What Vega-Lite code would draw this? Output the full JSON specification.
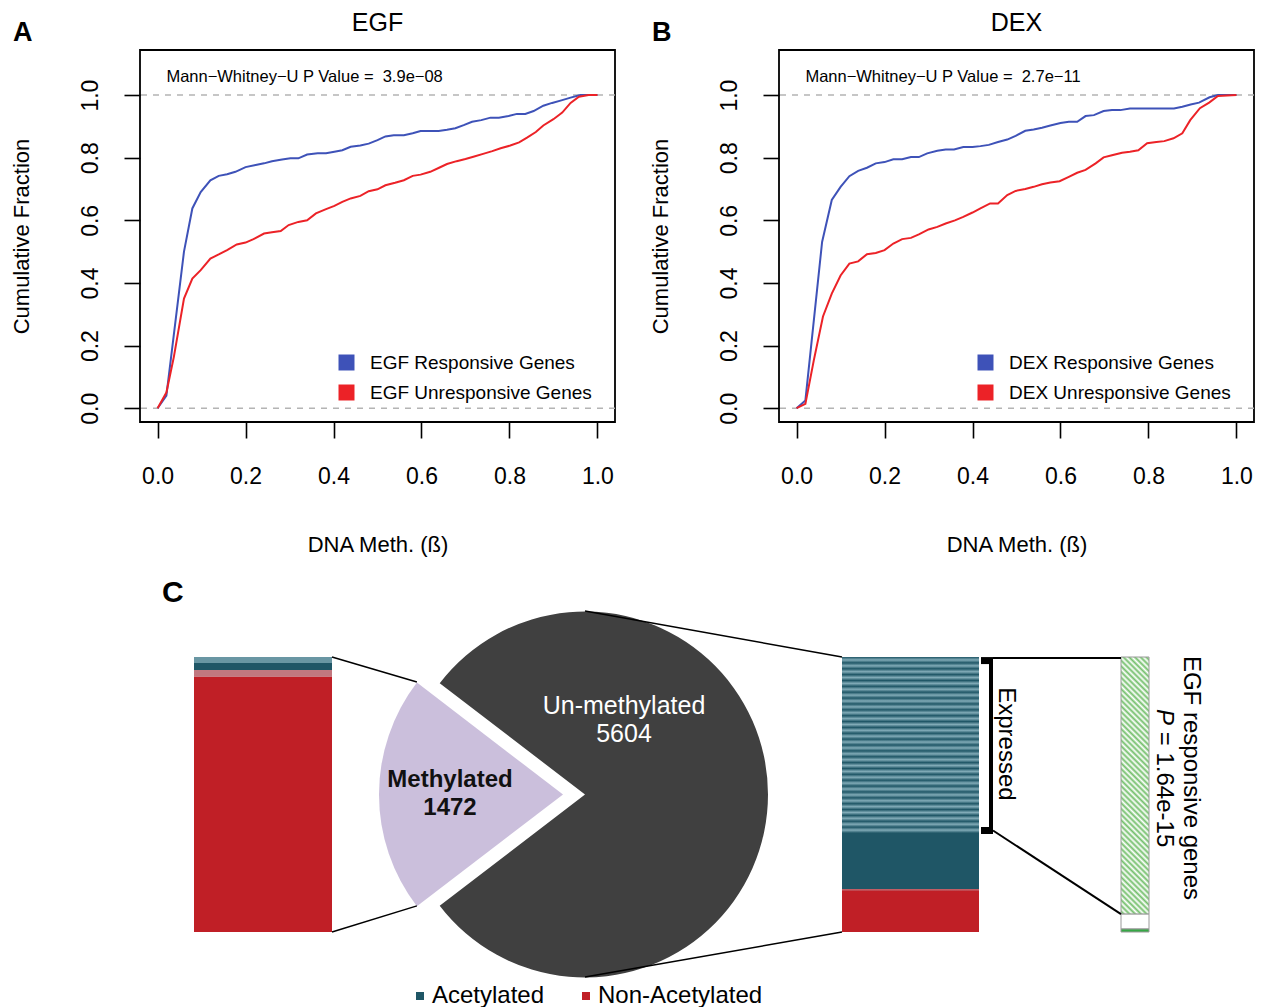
{
  "$schema": "https://vega.github.io/schema/vega-lite/v6.json",
  "background": "white",
  "padding": {"left": 9, "top": 10, "right": 0, "bottom": 0},
  "config": {
    "font": "Liberation Sans",
    "view": {"stroke": "black", "strokeWidth": 1.8},
    "axis": {"grid": false, "domain": false, "tickColor": "black", "tickWidth": 1.6, "tickSize": 16, "labelColor": "black", "titleColor": "black", "labelFontSize": 23, "titleFontSize": 22, "titleFontWeight": "normal", "labelFont": "Liberation Sans", "titleFont": "Liberation Sans"},
    "title": {"font": "Liberation Sans", "color": "black"},
    "legend": {"labelFont": "Liberation Sans", "labelColor": "black"},
    "text": {"font": "Liberation Sans"}
  },
  "datasets": {
    "egf": [
      {"series": "EGF Responsive Genes", "beta": 0, "fraction": 0},
      {"series": "EGF Responsive Genes", "beta": 0.02, "fraction": 0.04},
      {"series": "EGF Responsive Genes", "beta": 0.06, "fraction": 0.5},
      {"series": "EGF Responsive Genes", "beta": 0.079, "fraction": 0.638},
      {"series": "EGF Responsive Genes", "beta": 0.098, "fraction": 0.69},
      {"series": "EGF Responsive Genes", "beta": 0.12, "fraction": 0.728},
      {"series": "EGF Responsive Genes", "beta": 0.139, "fraction": 0.742},
      {"series": "EGF Responsive Genes", "beta": 0.158, "fraction": 0.747},
      {"series": "EGF Responsive Genes", "beta": 0.177, "fraction": 0.755},
      {"series": "EGF Responsive Genes", "beta": 0.2, "fraction": 0.77},
      {"series": "EGF Responsive Genes", "beta": 0.223, "fraction": 0.777},
      {"series": "EGF Responsive Genes", "beta": 0.242, "fraction": 0.782},
      {"series": "EGF Responsive Genes", "beta": 0.26, "fraction": 0.789},
      {"series": "EGF Responsive Genes", "beta": 0.283, "fraction": 0.794},
      {"series": "EGF Responsive Genes", "beta": 0.302, "fraction": 0.798},
      {"series": "EGF Responsive Genes", "beta": 0.32, "fraction": 0.798},
      {"series": "EGF Responsive Genes", "beta": 0.34, "fraction": 0.81},
      {"series": "EGF Responsive Genes", "beta": 0.364, "fraction": 0.814},
      {"series": "EGF Responsive Genes", "beta": 0.383, "fraction": 0.814},
      {"series": "EGF Responsive Genes", "beta": 0.402, "fraction": 0.819},
      {"series": "EGF Responsive Genes", "beta": 0.42, "fraction": 0.824},
      {"series": "EGF Responsive Genes", "beta": 0.439, "fraction": 0.835},
      {"series": "EGF Responsive Genes", "beta": 0.461, "fraction": 0.839},
      {"series": "EGF Responsive Genes", "beta": 0.48, "fraction": 0.845},
      {"series": "EGF Responsive Genes", "beta": 0.5, "fraction": 0.856},
      {"series": "EGF Responsive Genes", "beta": 0.518, "fraction": 0.868},
      {"series": "EGF Responsive Genes", "beta": 0.537, "fraction": 0.872},
      {"series": "EGF Responsive Genes", "beta": 0.56, "fraction": 0.872},
      {"series": "EGF Responsive Genes", "beta": 0.58, "fraction": 0.878},
      {"series": "EGF Responsive Genes", "beta": 0.598, "fraction": 0.885},
      {"series": "EGF Responsive Genes", "beta": 0.639, "fraction": 0.885},
      {"series": "EGF Responsive Genes", "beta": 0.658, "fraction": 0.889},
      {"series": "EGF Responsive Genes", "beta": 0.677, "fraction": 0.894},
      {"series": "EGF Responsive Genes", "beta": 0.696, "fraction": 0.904},
      {"series": "EGF Responsive Genes", "beta": 0.715, "fraction": 0.915},
      {"series": "EGF Responsive Genes", "beta": 0.736, "fraction": 0.92},
      {"series": "EGF Responsive Genes", "beta": 0.757, "fraction": 0.928},
      {"series": "EGF Responsive Genes", "beta": 0.776, "fraction": 0.928},
      {"series": "EGF Responsive Genes", "beta": 0.798, "fraction": 0.933},
      {"series": "EGF Responsive Genes", "beta": 0.817, "fraction": 0.94},
      {"series": "EGF Responsive Genes", "beta": 0.836, "fraction": 0.94},
      {"series": "EGF Responsive Genes", "beta": 0.855, "fraction": 0.949},
      {"series": "EGF Responsive Genes", "beta": 0.877, "fraction": 0.966},
      {"series": "EGF Responsive Genes", "beta": 0.897, "fraction": 0.975},
      {"series": "EGF Responsive Genes", "beta": 0.92, "fraction": 0.984},
      {"series": "EGF Responsive Genes", "beta": 0.939, "fraction": 0.992},
      {"series": "EGF Responsive Genes", "beta": 0.961, "fraction": 1.0},
      {"series": "EGF Responsive Genes", "beta": 1.0, "fraction": 1.0},
      {"series": "EGF Unresponsive Genes", "beta": 0, "fraction": 0},
      {"series": "EGF Unresponsive Genes", "beta": 0.02, "fraction": 0.05},
      {"series": "EGF Unresponsive Genes", "beta": 0.037, "fraction": 0.164},
      {"series": "EGF Unresponsive Genes", "beta": 0.06, "fraction": 0.35},
      {"series": "EGF Unresponsive Genes", "beta": 0.079, "fraction": 0.414},
      {"series": "EGF Unresponsive Genes", "beta": 0.098, "fraction": 0.441},
      {"series": "EGF Unresponsive Genes", "beta": 0.12, "fraction": 0.478},
      {"series": "EGF Unresponsive Genes", "beta": 0.139, "fraction": 0.491},
      {"series": "EGF Unresponsive Genes", "beta": 0.158, "fraction": 0.505},
      {"series": "EGF Unresponsive Genes", "beta": 0.18, "fraction": 0.523},
      {"series": "EGF Unresponsive Genes", "beta": 0.2, "fraction": 0.529},
      {"series": "EGF Unresponsive Genes", "beta": 0.218, "fraction": 0.54},
      {"series": "EGF Unresponsive Genes", "beta": 0.242, "fraction": 0.558},
      {"series": "EGF Unresponsive Genes", "beta": 0.26, "fraction": 0.562},
      {"series": "EGF Unresponsive Genes", "beta": 0.28, "fraction": 0.566},
      {"series": "EGF Unresponsive Genes", "beta": 0.298, "fraction": 0.585},
      {"series": "EGF Unresponsive Genes", "beta": 0.32, "fraction": 0.595},
      {"series": "EGF Unresponsive Genes", "beta": 0.34, "fraction": 0.6},
      {"series": "EGF Unresponsive Genes", "beta": 0.36, "fraction": 0.622},
      {"series": "EGF Unresponsive Genes", "beta": 0.383, "fraction": 0.636},
      {"series": "EGF Unresponsive Genes", "beta": 0.402, "fraction": 0.646},
      {"series": "EGF Unresponsive Genes", "beta": 0.42, "fraction": 0.659},
      {"series": "EGF Unresponsive Genes", "beta": 0.439, "fraction": 0.67},
      {"series": "EGF Unresponsive Genes", "beta": 0.461, "fraction": 0.678},
      {"series": "EGF Unresponsive Genes", "beta": 0.48, "fraction": 0.693},
      {"series": "EGF Unresponsive Genes", "beta": 0.5, "fraction": 0.699},
      {"series": "EGF Unresponsive Genes", "beta": 0.518, "fraction": 0.712},
      {"series": "EGF Unresponsive Genes", "beta": 0.54, "fraction": 0.72},
      {"series": "EGF Unresponsive Genes", "beta": 0.56, "fraction": 0.728},
      {"series": "EGF Unresponsive Genes", "beta": 0.58, "fraction": 0.742},
      {"series": "EGF Unresponsive Genes", "beta": 0.598, "fraction": 0.746},
      {"series": "EGF Unresponsive Genes", "beta": 0.62, "fraction": 0.755},
      {"series": "EGF Unresponsive Genes", "beta": 0.64, "fraction": 0.768},
      {"series": "EGF Unresponsive Genes", "beta": 0.658, "fraction": 0.78},
      {"series": "EGF Unresponsive Genes", "beta": 0.68, "fraction": 0.789},
      {"series": "EGF Unresponsive Genes", "beta": 0.7, "fraction": 0.796},
      {"series": "EGF Unresponsive Genes", "beta": 0.718, "fraction": 0.803},
      {"series": "EGF Unresponsive Genes", "beta": 0.742, "fraction": 0.813},
      {"series": "EGF Unresponsive Genes", "beta": 0.761, "fraction": 0.821},
      {"series": "EGF Unresponsive Genes", "beta": 0.78, "fraction": 0.83},
      {"series": "EGF Unresponsive Genes", "beta": 0.802, "fraction": 0.839},
      {"series": "EGF Unresponsive Genes", "beta": 0.822, "fraction": 0.849},
      {"series": "EGF Unresponsive Genes", "beta": 0.84, "fraction": 0.864},
      {"series": "EGF Unresponsive Genes", "beta": 0.86, "fraction": 0.882},
      {"series": "EGF Unresponsive Genes", "beta": 0.877, "fraction": 0.903},
      {"series": "EGF Unresponsive Genes", "beta": 0.9, "fraction": 0.923},
      {"series": "EGF Unresponsive Genes", "beta": 0.92, "fraction": 0.944},
      {"series": "EGF Unresponsive Genes", "beta": 0.939, "fraction": 0.975},
      {"series": "EGF Unresponsive Genes", "beta": 0.958, "fraction": 0.995},
      {"series": "EGF Unresponsive Genes", "beta": 0.98, "fraction": 1.0},
      {"series": "EGF Unresponsive Genes", "beta": 1.0, "fraction": 1.0}
    ],
    "dex": [
      {"series": "DEX Responsive Genes", "beta": 0, "fraction": 0},
      {"series": "DEX Responsive Genes", "beta": 0.02, "fraction": 0.025},
      {"series": "DEX Responsive Genes", "beta": 0.058, "fraction": 0.531},
      {"series": "DEX Responsive Genes", "beta": 0.08, "fraction": 0.665},
      {"series": "DEX Responsive Genes", "beta": 0.1, "fraction": 0.707},
      {"series": "DEX Responsive Genes", "beta": 0.12, "fraction": 0.741},
      {"series": "DEX Responsive Genes", "beta": 0.14, "fraction": 0.758},
      {"series": "DEX Responsive Genes", "beta": 0.16, "fraction": 0.768},
      {"series": "DEX Responsive Genes", "beta": 0.18, "fraction": 0.782},
      {"series": "DEX Responsive Genes", "beta": 0.2, "fraction": 0.786},
      {"series": "DEX Responsive Genes", "beta": 0.22, "fraction": 0.795},
      {"series": "DEX Responsive Genes", "beta": 0.24, "fraction": 0.795},
      {"series": "DEX Responsive Genes", "beta": 0.26, "fraction": 0.802},
      {"series": "DEX Responsive Genes", "beta": 0.278, "fraction": 0.802},
      {"series": "DEX Responsive Genes", "beta": 0.297, "fraction": 0.814},
      {"series": "DEX Responsive Genes", "beta": 0.32, "fraction": 0.822},
      {"series": "DEX Responsive Genes", "beta": 0.339, "fraction": 0.826},
      {"series": "DEX Responsive Genes", "beta": 0.358, "fraction": 0.826},
      {"series": "DEX Responsive Genes", "beta": 0.379, "fraction": 0.834},
      {"series": "DEX Responsive Genes", "beta": 0.4, "fraction": 0.834},
      {"series": "DEX Responsive Genes", "beta": 0.418, "fraction": 0.837},
      {"series": "DEX Responsive Genes", "beta": 0.437, "fraction": 0.841},
      {"series": "DEX Responsive Genes", "beta": 0.458, "fraction": 0.85},
      {"series": "DEX Responsive Genes", "beta": 0.479, "fraction": 0.858},
      {"series": "DEX Responsive Genes", "beta": 0.498, "fraction": 0.87},
      {"series": "DEX Responsive Genes", "beta": 0.52, "fraction": 0.886},
      {"series": "DEX Responsive Genes", "beta": 0.539, "fraction": 0.89},
      {"series": "DEX Responsive Genes", "beta": 0.558, "fraction": 0.896},
      {"series": "DEX Responsive Genes", "beta": 0.577, "fraction": 0.903},
      {"series": "DEX Responsive Genes", "beta": 0.6, "fraction": 0.911},
      {"series": "DEX Responsive Genes", "beta": 0.619, "fraction": 0.915},
      {"series": "DEX Responsive Genes", "beta": 0.638, "fraction": 0.915},
      {"series": "DEX Responsive Genes", "beta": 0.657, "fraction": 0.933},
      {"series": "DEX Responsive Genes", "beta": 0.676, "fraction": 0.936},
      {"series": "DEX Responsive Genes", "beta": 0.698, "fraction": 0.949},
      {"series": "DEX Responsive Genes", "beta": 0.717, "fraction": 0.952},
      {"series": "DEX Responsive Genes", "beta": 0.736, "fraction": 0.952},
      {"series": "DEX Responsive Genes", "beta": 0.758, "fraction": 0.957},
      {"series": "DEX Responsive Genes", "beta": 0.858, "fraction": 0.957},
      {"series": "DEX Responsive Genes", "beta": 0.877, "fraction": 0.963},
      {"series": "DEX Responsive Genes", "beta": 0.896, "fraction": 0.97},
      {"series": "DEX Responsive Genes", "beta": 0.915, "fraction": 0.976},
      {"series": "DEX Responsive Genes", "beta": 0.939, "fraction": 0.993},
      {"series": "DEX Responsive Genes", "beta": 0.958, "fraction": 1.0},
      {"series": "DEX Responsive Genes", "beta": 1.0, "fraction": 1.0},
      {"series": "DEX Unresponsive Genes", "beta": 0, "fraction": 0},
      {"series": "DEX Unresponsive Genes", "beta": 0.02, "fraction": 0.014},
      {"series": "DEX Unresponsive Genes", "beta": 0.039, "fraction": 0.152},
      {"series": "DEX Unresponsive Genes", "beta": 0.06, "fraction": 0.293},
      {"series": "DEX Unresponsive Genes", "beta": 0.08, "fraction": 0.366},
      {"series": "DEX Unresponsive Genes", "beta": 0.1, "fraction": 0.424},
      {"series": "DEX Unresponsive Genes", "beta": 0.12, "fraction": 0.462},
      {"series": "DEX Unresponsive Genes", "beta": 0.14, "fraction": 0.469},
      {"series": "DEX Unresponsive Genes", "beta": 0.16, "fraction": 0.492},
      {"series": "DEX Unresponsive Genes", "beta": 0.18, "fraction": 0.496},
      {"series": "DEX Unresponsive Genes", "beta": 0.2, "fraction": 0.505},
      {"series": "DEX Unresponsive Genes", "beta": 0.22, "fraction": 0.526},
      {"series": "DEX Unresponsive Genes", "beta": 0.24, "fraction": 0.54},
      {"series": "DEX Unresponsive Genes", "beta": 0.26, "fraction": 0.544},
      {"series": "DEX Unresponsive Genes", "beta": 0.278, "fraction": 0.555},
      {"series": "DEX Unresponsive Genes", "beta": 0.3, "fraction": 0.571},
      {"series": "DEX Unresponsive Genes", "beta": 0.32, "fraction": 0.579},
      {"series": "DEX Unresponsive Genes", "beta": 0.339, "fraction": 0.59},
      {"series": "DEX Unresponsive Genes", "beta": 0.36, "fraction": 0.6},
      {"series": "DEX Unresponsive Genes", "beta": 0.379, "fraction": 0.611},
      {"series": "DEX Unresponsive Genes", "beta": 0.4, "fraction": 0.625},
      {"series": "DEX Unresponsive Genes", "beta": 0.418, "fraction": 0.638},
      {"series": "DEX Unresponsive Genes", "beta": 0.44, "fraction": 0.654},
      {"series": "DEX Unresponsive Genes", "beta": 0.458, "fraction": 0.654},
      {"series": "DEX Unresponsive Genes", "beta": 0.479, "fraction": 0.681},
      {"series": "DEX Unresponsive Genes", "beta": 0.498, "fraction": 0.694},
      {"series": "DEX Unresponsive Genes", "beta": 0.52, "fraction": 0.7},
      {"series": "DEX Unresponsive Genes", "beta": 0.539, "fraction": 0.707},
      {"series": "DEX Unresponsive Genes", "beta": 0.558, "fraction": 0.715},
      {"series": "DEX Unresponsive Genes", "beta": 0.577, "fraction": 0.721},
      {"series": "DEX Unresponsive Genes", "beta": 0.598, "fraction": 0.725},
      {"series": "DEX Unresponsive Genes", "beta": 0.619, "fraction": 0.739},
      {"series": "DEX Unresponsive Genes", "beta": 0.638, "fraction": 0.752},
      {"series": "DEX Unresponsive Genes", "beta": 0.657, "fraction": 0.761},
      {"series": "DEX Unresponsive Genes", "beta": 0.68, "fraction": 0.782},
      {"series": "DEX Unresponsive Genes", "beta": 0.698, "fraction": 0.801},
      {"series": "DEX Unresponsive Genes", "beta": 0.717, "fraction": 0.808},
      {"series": "DEX Unresponsive Genes", "beta": 0.74, "fraction": 0.816},
      {"series": "DEX Unresponsive Genes", "beta": 0.758, "fraction": 0.819},
      {"series": "DEX Unresponsive Genes", "beta": 0.777, "fraction": 0.824},
      {"series": "DEX Unresponsive Genes", "beta": 0.797, "fraction": 0.846},
      {"series": "DEX Unresponsive Genes", "beta": 0.818, "fraction": 0.85},
      {"series": "DEX Unresponsive Genes", "beta": 0.836, "fraction": 0.853},
      {"series": "DEX Unresponsive Genes", "beta": 0.857, "fraction": 0.862},
      {"series": "DEX Unresponsive Genes", "beta": 0.877, "fraction": 0.878},
      {"series": "DEX Unresponsive Genes", "beta": 0.895, "fraction": 0.92},
      {"series": "DEX Unresponsive Genes", "beta": 0.917, "fraction": 0.958},
      {"series": "DEX Unresponsive Genes", "beta": 0.938, "fraction": 0.976},
      {"series": "DEX Unresponsive Genes", "beta": 0.958, "fraction": 0.997},
      {"series": "DEX Unresponsive Genes", "beta": 1.0, "fraction": 1.0}
    ],
    "composition": [
      {"status": "Methylated", "acetylation": "Acetylated", "expression": "Expressed", "genes": 32},
      {"status": "Methylated", "acetylation": "Acetylated", "expression": "Not expressed", "genes": 37},
      {"status": "Methylated", "acetylation": "Non-Acetylated", "expression": "Expressed", "genes": 37},
      {"status": "Methylated", "acetylation": "Non-Acetylated", "expression": "Not expressed", "genes": 1366},
      {"status": "Un-methylated", "acetylation": "Acetylated", "expression": "Expressed", "genes": 3587},
      {"status": "Un-methylated", "acetylation": "Acetylated", "expression": "Not expressed", "genes": 1141},
      {"status": "Un-methylated", "acetylation": "Non-Acetylated", "expression": "Expressed", "genes": 41},
      {"status": "Un-methylated", "acetylation": "Non-Acetylated", "expression": "Not expressed", "genes": 835}
    ],
    "methylation": [
      {"status": "Methylated", "genes": 1472},
      {"status": "Un-methylated", "genes": 5604}
    ],
    "egfResponsive": [
      {"segment": "Un-methylated, acetylated, expressed", "share": 93.5},
      {"segment": "Other", "share": 5.4},
      {"segment": "Methylated", "share": 1.1}
    ]
  },
  "vconcat": [
    {
      "hconcat": [
        {
          "title": {"text": "A", "anchor": "start", "fontSize": 27, "fontWeight": "bold", "offset": -58, "dx": 4, "baseline": "alphabetic"},
          "vconcat": [
            {
              "width": 475, "height": 372,
              "title": {"text": "EGF", "fontSize": 25, "fontWeight": "normal", "offset": -6, "baseline": "alphabetic", "anchor": "middle", "frame": "group"},
              "layer": [
                {
                  "data": {"values": [{"level": 0}, {"level": 1}]},
                  "mark": {"type": "rule", "color": "#b4b4b4", "strokeWidth": 1.5, "strokeDash": [6, 6]},
                  "encoding": {"y": {"field": "level", "type": "quantitative",
                    "axis": {"values": [0, 0.2, 0.4, 0.6, 0.8, 1], "format": ".1f", "title": "Cumulative Fraction", "labelAngle": 270, "labelAlign": "center", "labelBaseline": "bottom", "labelPadding": 22, "titlePadding": 46, "labelFlush": false, "labelOverlap": false}}}
                },
                {
                  "data": {"name": "egf"},
                  "mark": {"type": "line", "strokeWidth": 2},
                  "encoding": {
                    "x": {"field": "beta", "type": "quantitative", "scale": {"domain": [-0.04, 1.04], "nice": false, "zero": false},
                      "axis": {"values": [0, 0.2, 0.4, 0.6, 0.8, 1], "format": ".1f", "title": "DNA Meth. (ß)", "labelPadding": 27, "titlePadding": 46, "labelFlush": false, "labelOverlap": false}},
                    "y": {"field": "fraction", "type": "quantitative", "scale": {"domain": [-0.044, 1.144], "nice": false, "zero": false},
                      "axis": {"values": [0, 0.2, 0.4, 0.6, 0.8, 1], "format": ".1f", "title": "Cumulative Fraction", "labelAngle": 270, "labelAlign": "center", "labelBaseline": "bottom", "labelPadding": 22, "titlePadding": 46, "labelFlush": false, "labelOverlap": false}},
                    "color": {"field": "series", "type": "nominal",
                      "scale": {"domain": ["EGF Responsive Genes", "EGF Unresponsive Genes"], "range": ["#3e52b8", "#ec2227"]},
                      "legend": {"title": null, "orient": "none", "legendX": 197, "legendY": 303, "direction": "vertical", "symbolType": "square", "symbolSize": 64, "symbolStrokeWidth": 8, "labelFontSize": 19, "labelOffset": 14, "labelLimit": 500, "rowPadding": -19, "padding": 0}}
                  }
                },
                {
                  "data": {"values": [{"label": "Mann−Whitney−U P Value = \u00a03.9e−08"}]},
                  "mark": {"type": "text", "fontSize": 16.5, "align": "left", "baseline": "middle", "color": "black"},
                  "encoding": {
                    "x": {"datum": 0.02, "axis": {"values": [0, 0.2, 0.4, 0.6, 0.8, 1], "format": ".1f", "title": "DNA Meth. (ß)", "labelPadding": 27, "titlePadding": 46, "labelFlush": false, "labelOverlap": false}},
                    "y": {"datum": 1.0575, "axis": {"values": [0, 0.2, 0.4, 0.6, 0.8, 1], "format": ".1f", "title": "Cumulative Fraction", "labelAngle": 270, "labelAlign": "center", "labelBaseline": "bottom", "labelPadding": 22, "titlePadding": 46, "labelFlush": false, "labelOverlap": false}},
                    "text": {"field": "label"}}
                }
              ]
            }
          ]
        },
        {
          "title": {"text": "B", "anchor": "start", "fontSize": 27, "fontWeight": "bold", "offset": -58, "dx": 4, "baseline": "alphabetic"},
          "vconcat": [
            {
              "width": 475, "height": 372,
              "title": {"text": "DEX", "fontSize": 25, "fontWeight": "normal", "offset": -6, "baseline": "alphabetic", "anchor": "middle", "frame": "group"},
              "layer": [
                {
                  "data": {"values": [{"level": 0}, {"level": 1}]},
                  "mark": {"type": "rule", "color": "#b4b4b4", "strokeWidth": 1.5, "strokeDash": [6, 6]},
                  "encoding": {"y": {"field": "level", "type": "quantitative",
                    "axis": {"values": [0, 0.2, 0.4, 0.6, 0.8, 1], "format": ".1f", "title": "Cumulative Fraction", "labelAngle": 270, "labelAlign": "center", "labelBaseline": "bottom", "labelPadding": 22, "titlePadding": 46, "labelFlush": false, "labelOverlap": false}}}
                },
                {
                  "data": {"name": "dex"},
                  "mark": {"type": "line", "strokeWidth": 2},
                  "encoding": {
                    "x": {"field": "beta", "type": "quantitative", "scale": {"domain": [-0.04, 1.04], "nice": false, "zero": false},
                      "axis": {"values": [0, 0.2, 0.4, 0.6, 0.8, 1], "format": ".1f", "title": "DNA Meth. (ß)", "labelPadding": 27, "titlePadding": 46, "labelFlush": false, "labelOverlap": false}},
                    "y": {"field": "fraction", "type": "quantitative", "scale": {"domain": [-0.044, 1.144], "nice": false, "zero": false},
                      "axis": {"values": [0, 0.2, 0.4, 0.6, 0.8, 1], "format": ".1f", "title": "Cumulative Fraction", "labelAngle": 270, "labelAlign": "center", "labelBaseline": "bottom", "labelPadding": 22, "titlePadding": 46, "labelFlush": false, "labelOverlap": false}},
                    "color": {"field": "series", "type": "nominal",
                      "scale": {"domain": ["DEX Responsive Genes", "DEX Unresponsive Genes"], "range": ["#3e52b8", "#ec2227"]},
                      "legend": {"title": null, "orient": "none", "legendX": 197, "legendY": 303, "direction": "vertical", "symbolType": "square", "symbolSize": 64, "symbolStrokeWidth": 8, "labelFontSize": 19, "labelOffset": 14, "labelLimit": 500, "rowPadding": -19, "padding": 0}}
                  }
                },
                {
                  "data": {"values": [{"label": "Mann−Whitney−U P Value = \u00a02.7e−11"}]},
                  "mark": {"type": "text", "fontSize": 16.5, "align": "left", "baseline": "middle", "color": "black"},
                  "encoding": {
                    "x": {"datum": 0.02, "axis": {"values": [0, 0.2, 0.4, 0.6, 0.8, 1], "format": ".1f", "title": "DNA Meth. (ß)", "labelPadding": 27, "titlePadding": 46, "labelFlush": false, "labelOverlap": false}},
                    "y": {"datum": 1.0575, "axis": {"values": [0, 0.2, 0.4, 0.6, 0.8, 1], "format": ".1f", "title": "Cumulative Fraction", "labelAngle": 270, "labelAlign": "center", "labelBaseline": "bottom", "labelPadding": 22, "titlePadding": 46, "labelFlush": false, "labelOverlap": false}},
                    "text": {"field": "label"}}
                }
              ]
            }
          ]
        }
      ],
      "spacing": 31,
      "resolve": {"scale": {"color": "independent"}, "legend": {"color": "independent"}}
    },
    {
      "width": 1123, "height": 385,
      "view": {"stroke": null},
      "title": {"text": "C", "anchor": "start", "frame": "group", "fontSize": 30, "fontWeight": "bold", "dx": 22, "offset": -29.5, "baseline": "alphabetic"},
      "layer": [
        {
          "data": {"name": "composition"},
          "transform": [{"stack": "genes", "groupby": ["status"], "sort": [{"field": "acetylation", "order": "descending"}, {"field": "expression", "order": "descending"}], "offset": "normalize", "as": ["f0", "f1"]}],
          "layer": [
            {
              "transform": [{"filter": "datum.status === 'Methylated'"}],
              "mark": {"type": "rect"},
              "encoding": {
                "x": {"datum": 0.54, "type": "quantitative", "scale": {"domain": [0, 11.23], "nice": false, "zero": false}, "axis": null},
                "x2": {"datum": 1.92},
                "y": {"field": "f0", "type": "quantitative", "scale": {"domain": [-0.2, 1.2], "nice": false, "zero": false}, "axis": null},
                "y2": {"field": "f1"},
                "color": {"field": "acetylation", "type": "nominal", "scale": {"domain": ["Acetylated", "Non-Acetylated"], "range": ["#1f5666", "#c01f26"]},
                  "legend": {"title": null, "orient": "none", "legendX": 268, "legendY": 382, "direction": "horizontal", "symbolType": "square", "symbolSize": 64, "symbolStrokeWidth": 0, "labelFontSize": 24, "labelOffset": 0, "labelLimit": 500, "columnPadding": 29, "padding": 0}}
              }
            },
            {
              "transform": [{"filter": "datum.status === 'Un-methylated'"}],
              "mark": {"type": "rect"},
              "encoding": {
                "x": {"datum": 7.02, "type": "quantitative", "axis": null},
                "x2": {"datum": 8.39},
                "y": {"field": "f0", "type": "quantitative", "axis": null},
                "y2": {"field": "f1"},
                "color": {"field": "acetylation", "type": "nominal", "scale": {"domain": ["Acetylated", "Non-Acetylated"], "range": ["#1f5666", "#c01f26"]},
                  "legend": {"title": null, "orient": "none", "legendX": 268, "legendY": 382, "direction": "horizontal", "symbolType": "square", "symbolSize": 64, "symbolStrokeWidth": 0, "labelFontSize": 24, "labelOffset": 0, "labelLimit": 500, "columnPadding": 29, "padding": 0}}
              }
            },
            {
              "transform": [{"filter": "datum.status === 'Methylated' && datum.expression === 'Expressed'"}],
              "mark": {"type": "rect", "fill": "rgba(195,228,238,0.45)"},
              "encoding": {
                "x": {"datum": 0.54, "type": "quantitative", "axis": null},
                "x2": {"datum": 1.92},
                "y": {"field": "f0", "type": "quantitative", "axis": null},
                "y2": {"field": "f1"}
              }
            },
            {
              "transform": [{"filter": "datum.status === 'Un-methylated' && datum.expression === 'Expressed'"}],
              "mark": {"type": "rect", "fill": {"gradient": "linear", "x1": 0, "y1": 0, "x2": 0, "y2": 1, "stops": [
                {"offset": 0, "color": "rgba(195,228,238,0)"}, {"offset": 0.0167, "color": "rgba(195,228,238,0.6)"},
                {"offset": 0.0333, "color": "rgba(195,228,238,0)"}, {"offset": 0.05, "color": "rgba(195,228,238,0.6)"},
                {"offset": 0.0667, "color": "rgba(195,228,238,0)"}, {"offset": 0.0833, "color": "rgba(195,228,238,0.6)"},
                {"offset": 0.1, "color": "rgba(195,228,238,0)"}, {"offset": 0.1167, "color": "rgba(195,228,238,0.6)"},
                {"offset": 0.1333, "color": "rgba(195,228,238,0)"}, {"offset": 0.15, "color": "rgba(195,228,238,0.6)"},
                {"offset": 0.1667, "color": "rgba(195,228,238,0)"}, {"offset": 0.1833, "color": "rgba(195,228,238,0.6)"},
                {"offset": 0.2, "color": "rgba(195,228,238,0)"}, {"offset": 0.2167, "color": "rgba(195,228,238,0.6)"},
                {"offset": 0.2333, "color": "rgba(195,228,238,0)"}, {"offset": 0.25, "color": "rgba(195,228,238,0.6)"},
                {"offset": 0.2667, "color": "rgba(195,228,238,0)"}, {"offset": 0.2833, "color": "rgba(195,228,238,0.6)"},
                {"offset": 0.3, "color": "rgba(195,228,238,0)"}, {"offset": 0.3167, "color": "rgba(195,228,238,0.6)"},
                {"offset": 0.3333, "color": "rgba(195,228,238,0)"}, {"offset": 0.35, "color": "rgba(195,228,238,0.6)"},
                {"offset": 0.3667, "color": "rgba(195,228,238,0)"}, {"offset": 0.3833, "color": "rgba(195,228,238,0.6)"},
                {"offset": 0.4, "color": "rgba(195,228,238,0)"}, {"offset": 0.4167, "color": "rgba(195,228,238,0.6)"},
                {"offset": 0.4333, "color": "rgba(195,228,238,0)"}, {"offset": 0.45, "color": "rgba(195,228,238,0.6)"},
                {"offset": 0.4667, "color": "rgba(195,228,238,0)"}, {"offset": 0.4833, "color": "rgba(195,228,238,0.6)"},
                {"offset": 0.5, "color": "rgba(195,228,238,0)"}, {"offset": 0.5167, "color": "rgba(195,228,238,0.6)"},
                {"offset": 0.5333, "color": "rgba(195,228,238,0)"}, {"offset": 0.55, "color": "rgba(195,228,238,0.6)"},
                {"offset": 0.5667, "color": "rgba(195,228,238,0)"}, {"offset": 0.5833, "color": "rgba(195,228,238,0.6)"},
                {"offset": 0.6, "color": "rgba(195,228,238,0)"}, {"offset": 0.6167, "color": "rgba(195,228,238,0.6)"},
                {"offset": 0.6333, "color": "rgba(195,228,238,0)"}, {"offset": 0.65, "color": "rgba(195,228,238,0.6)"},
                {"offset": 0.6667, "color": "rgba(195,228,238,0)"}, {"offset": 0.6833, "color": "rgba(195,228,238,0.6)"},
                {"offset": 0.7, "color": "rgba(195,228,238,0)"}, {"offset": 0.7167, "color": "rgba(195,228,238,0.6)"},
                {"offset": 0.7333, "color": "rgba(195,228,238,0)"}, {"offset": 0.75, "color": "rgba(195,228,238,0.6)"},
                {"offset": 0.7667, "color": "rgba(195,228,238,0)"}, {"offset": 0.7833, "color": "rgba(195,228,238,0.6)"},
                {"offset": 0.8, "color": "rgba(195,228,238,0)"}, {"offset": 0.8167, "color": "rgba(195,228,238,0.6)"},
                {"offset": 0.8333, "color": "rgba(195,228,238,0)"}, {"offset": 0.85, "color": "rgba(195,228,238,0.6)"},
                {"offset": 0.8667, "color": "rgba(195,228,238,0)"}, {"offset": 0.8833, "color": "rgba(195,228,238,0.6)"},
                {"offset": 0.9, "color": "rgba(195,228,238,0)"}, {"offset": 0.9167, "color": "rgba(195,228,238,0.6)"},
                {"offset": 0.9333, "color": "rgba(195,228,238,0)"}, {"offset": 0.95, "color": "rgba(195,228,238,0.6)"},
                {"offset": 0.9667, "color": "rgba(195,228,238,0)"}, {"offset": 0.9833, "color": "rgba(195,228,238,0.6)"},
                {"offset": 1, "color": "rgba(195,228,238,0)"}
              ]}},
              "encoding": {
                "x": {"datum": 7.02, "type": "quantitative", "axis": null},
                "x2": {"datum": 8.39},
                "y": {"field": "f0", "type": "quantitative", "axis": null},
                "y2": {"field": "f1"}
              }
            }
          ]
        },
        {
          "data": {"name": "egfResponsive"},
          "transform": [{"stack": "share", "groupby": [], "sort": [{"field": "share", "order": "ascending"}], "offset": "normalize", "as": ["g0", "g1"]}],
          "layer": [
            {
              "transform": [{"filter": "datum.segment === 'Un-methylated, acetylated, expressed'"}],
              "mark": {"type": "rect", "stroke": "#9a9a9a", "strokeWidth": 1, "fill": {"gradient": "linear", "x1": 0, "y1": 1, "x2": 0.119, "y2": -0.096, "stops": [
                {"offset": 0, "color": "#ffffff"}, {"offset": 0.01, "color": "#73bf6b"}, {"offset": 0.02, "color": "#ffffff"}, {"offset": 0.03, "color": "#73bf6b"},
                {"offset": 0.04, "color": "#ffffff"}, {"offset": 0.05, "color": "#73bf6b"}, {"offset": 0.06, "color": "#ffffff"}, {"offset": 0.07, "color": "#73bf6b"},
                {"offset": 0.08, "color": "#ffffff"}, {"offset": 0.09, "color": "#73bf6b"}, {"offset": 0.1, "color": "#ffffff"}, {"offset": 0.11, "color": "#73bf6b"},
                {"offset": 0.12, "color": "#ffffff"}, {"offset": 0.13, "color": "#73bf6b"}, {"offset": 0.14, "color": "#ffffff"}, {"offset": 0.15, "color": "#73bf6b"},
                {"offset": 0.16, "color": "#ffffff"}, {"offset": 0.17, "color": "#73bf6b"}, {"offset": 0.18, "color": "#ffffff"}, {"offset": 0.19, "color": "#73bf6b"},
                {"offset": 0.2, "color": "#ffffff"}, {"offset": 0.21, "color": "#73bf6b"}, {"offset": 0.22, "color": "#ffffff"}, {"offset": 0.23, "color": "#73bf6b"},
                {"offset": 0.24, "color": "#ffffff"}, {"offset": 0.25, "color": "#73bf6b"}, {"offset": 0.26, "color": "#ffffff"}, {"offset": 0.27, "color": "#73bf6b"},
                {"offset": 0.28, "color": "#ffffff"}, {"offset": 0.29, "color": "#73bf6b"}, {"offset": 0.3, "color": "#ffffff"}, {"offset": 0.31, "color": "#73bf6b"},
                {"offset": 0.32, "color": "#ffffff"}, {"offset": 0.33, "color": "#73bf6b"}, {"offset": 0.34, "color": "#ffffff"}, {"offset": 0.35, "color": "#73bf6b"},
                {"offset": 0.36, "color": "#ffffff"}, {"offset": 0.37, "color": "#73bf6b"}, {"offset": 0.38, "color": "#ffffff"}, {"offset": 0.39, "color": "#73bf6b"},
                {"offset": 0.4, "color": "#ffffff"}, {"offset": 0.41, "color": "#73bf6b"}, {"offset": 0.42, "color": "#ffffff"}, {"offset": 0.43, "color": "#73bf6b"},
                {"offset": 0.44, "color": "#ffffff"}, {"offset": 0.45, "color": "#73bf6b"}, {"offset": 0.46, "color": "#ffffff"}, {"offset": 0.47, "color": "#73bf6b"},
                {"offset": 0.48, "color": "#ffffff"}, {"offset": 0.49, "color": "#73bf6b"}, {"offset": 0.5, "color": "#ffffff"}, {"offset": 0.51, "color": "#73bf6b"},
                {"offset": 0.52, "color": "#ffffff"}, {"offset": 0.53, "color": "#73bf6b"}, {"offset": 0.54, "color": "#ffffff"}, {"offset": 0.55, "color": "#73bf6b"},
                {"offset": 0.56, "color": "#ffffff"}, {"offset": 0.57, "color": "#73bf6b"}, {"offset": 0.58, "color": "#ffffff"}, {"offset": 0.59, "color": "#73bf6b"},
                {"offset": 0.6, "color": "#ffffff"}, {"offset": 0.61, "color": "#73bf6b"}, {"offset": 0.62, "color": "#ffffff"}, {"offset": 0.63, "color": "#73bf6b"},
                {"offset": 0.64, "color": "#ffffff"}, {"offset": 0.65, "color": "#73bf6b"}, {"offset": 0.66, "color": "#ffffff"}, {"offset": 0.67, "color": "#73bf6b"},
                {"offset": 0.68, "color": "#ffffff"}, {"offset": 0.69, "color": "#73bf6b"}, {"offset": 0.7, "color": "#ffffff"}, {"offset": 0.71, "color": "#73bf6b"},
                {"offset": 0.72, "color": "#ffffff"}, {"offset": 0.73, "color": "#73bf6b"}, {"offset": 0.74, "color": "#ffffff"}, {"offset": 0.75, "color": "#73bf6b"},
                {"offset": 0.76, "color": "#ffffff"}, {"offset": 0.77, "color": "#73bf6b"}, {"offset": 0.78, "color": "#ffffff"}, {"offset": 0.79, "color": "#73bf6b"},
                {"offset": 0.8, "color": "#ffffff"}, {"offset": 0.81, "color": "#73bf6b"}, {"offset": 0.82, "color": "#ffffff"}, {"offset": 0.83, "color": "#73bf6b"},
                {"offset": 0.84, "color": "#ffffff"}, {"offset": 0.85, "color": "#73bf6b"}, {"offset": 0.86, "color": "#ffffff"}, {"offset": 0.87, "color": "#73bf6b"},
                {"offset": 0.88, "color": "#ffffff"}, {"offset": 0.89, "color": "#73bf6b"}, {"offset": 0.9, "color": "#ffffff"}, {"offset": 0.91, "color": "#73bf6b"},
                {"offset": 0.92, "color": "#ffffff"}, {"offset": 0.93, "color": "#73bf6b"}, {"offset": 0.94, "color": "#ffffff"}, {"offset": 0.95, "color": "#73bf6b"},
                {"offset": 0.96, "color": "#ffffff"}, {"offset": 0.97, "color": "#73bf6b"}, {"offset": 0.98, "color": "#ffffff"}, {"offset": 0.99, "color": "#73bf6b"},
                {"offset": 1, "color": "#ffffff"}
              ]}},
              "encoding": {
                "x": {"datum": 9.81, "type": "quantitative", "axis": null},
                "x2": {"datum": 10.09},
                "y": {"field": "g0", "type": "quantitative", "axis": null},
                "y2": {"field": "g1"}
              }
            },
            {
              "transform": [{"filter": "datum.segment === 'Other'"}],
              "mark": {"type": "rect", "stroke": "#9a9a9a", "strokeWidth": 1, "fill": "white"},
              "encoding": {
                "x": {"datum": 9.81, "type": "quantitative", "axis": null},
                "x2": {"datum": 10.09},
                "y": {"field": "g0", "type": "quantitative", "axis": null},
                "y2": {"field": "g1"}
              }
            },
            {
              "transform": [{"filter": "datum.segment === 'Methylated'"}],
              "mark": {"type": "rect", "stroke": "#9a9a9a", "strokeWidth": 1, "fill": "#35a845"},
              "encoding": {
                "x": {"datum": 9.81, "type": "quantitative", "axis": null},
                "x2": {"datum": 10.09},
                "y": {"field": "g0", "type": "quantitative", "axis": null},
                "y2": {"field": "g1"}
              }
            }
          ]
        },
        {
          "data": {"name": "methylation"},
          "transform": [{"stack": "genes", "groupby": [], "sort": [{"field": "genes", "order": "ascending"}], "as": ["t0", "t1"]}],
          "layer": [
            {
              "transform": [{"filter": "datum.status === 'Un-methylated'"}],
              "mark": {"type": "arc", "outerRadius": 183, "fill": "#404040"},
              "encoding": {
                "theta": {"field": "t0", "type": "quantitative", "scale": {"domain": [0, 7076], "range": [4.0589, 10.3421], "nice": false, "zero": true}},
                "theta2": {"field": "t1"},
                "x": {"datum": 4.45, "type": "quantitative", "axis": null},
                "y": {"datum": 0.5, "type": "quantitative", "axis": null}
              }
            },
            {
              "transform": [{"filter": "datum.status === 'Methylated'"}],
              "mark": {"type": "arc", "outerRadius": 184, "fill": "#cbbfdc"},
              "encoding": {
                "theta": {"field": "t0", "type": "quantitative"},
                "theta2": {"field": "t1"},
                "x": {"datum": 4.23, "type": "quantitative", "axis": null},
                "y": {"datum": 0.5, "type": "quantitative", "axis": null}
              }
            }
          ]
        },
        {"data": {"values": [{"link": "Methylated bar top"}]}, "mark": {"type": "rule", "color": "black", "strokeWidth": 1.5},
          "encoding": {"x": {"datum": 1.92, "axis": null}, "y": {"datum": 1.0, "axis": null}, "x2": {"datum": 2.769}, "y2": {"datum": 0.909}}},
        {"data": {"values": [{"link": "Methylated bar bottom"}]}, "mark": {"type": "rule", "color": "black", "strokeWidth": 1.5},
          "encoding": {"x": {"datum": 1.92, "axis": null}, "y": {"datum": 0.0, "axis": null}, "x2": {"datum": 2.769}, "y2": {"datum": 0.095}}},
        {"data": {"values": [{"link": "Un-methylated bar top"}]}, "mark": {"type": "rule", "color": "black", "strokeWidth": 1.5},
          "encoding": {"x": {"datum": 4.45, "axis": null}, "y": {"datum": 1.167, "axis": null}, "x2": {"datum": 7.02}, "y2": {"datum": 1.0}}},
        {"data": {"values": [{"link": "Un-methylated bar bottom"}]}, "mark": {"type": "rule", "color": "black", "strokeWidth": 1.5},
          "encoding": {"x": {"datum": 4.45, "axis": null}, "y": {"datum": -0.164, "axis": null}, "x2": {"datum": 7.02}, "y2": {"datum": 0.0}}},
        {"data": {"values": [{"link": "Expressed bracket"}]}, "mark": {"type": "rule", "color": "black", "strokeWidth": 4},
          "encoding": {"x": {"datum": 8.51, "axis": null}, "y": {"datum": 0.987, "axis": null}, "x2": {"datum": 8.51}, "y2": {"datum": 0.369}}},
        {"data": {"values": [{"link": "Expressed bracket top"}]}, "mark": {"type": "rule", "color": "black", "strokeWidth": 7},
          "encoding": {"x": {"datum": 8.41, "axis": null}, "y": {"datum": 0.987, "axis": null}, "x2": {"datum": 8.53}, "y2": {"datum": 0.987}}},
        {"data": {"values": [{"link": "Expressed bracket bottom"}]}, "mark": {"type": "rule", "color": "black", "strokeWidth": 7},
          "encoding": {"x": {"datum": 8.41, "axis": null}, "y": {"datum": 0.369, "axis": null}, "x2": {"datum": 8.53}, "y2": {"datum": 0.369}}},
        {"data": {"values": [{"link": "EGF bar top"}]}, "mark": {"type": "rule", "color": "black", "strokeWidth": 2},
          "encoding": {"x": {"datum": 8.53, "axis": null}, "y": {"datum": 0.996, "axis": null}, "x2": {"datum": 9.81}, "y2": {"datum": 0.996}}},
        {"data": {"values": [{"link": "EGF bar bottom"}]}, "mark": {"type": "rule", "color": "black", "strokeWidth": 2},
          "encoding": {"x": {"datum": 8.53, "axis": null}, "y": {"datum": 0.369, "axis": null}, "x2": {"datum": 9.81}, "y2": {"datum": 0.065}}},
        {"data": {"values": [{"label": "Un-methylated\n5604"}]}, "mark": {"type": "text", "color": "white", "fontSize": 25, "lineBreak": "\n", "lineHeight": 28, "align": "center", "baseline": "middle"},
          "encoding": {"x": {"datum": 4.84, "axis": null}, "y": {"datum": 0.822, "axis": null}, "text": {"field": "label"}}},
        {"data": {"values": [{"label": "Methylated\n1472"}]}, "mark": {"type": "text", "color": "#111111", "fontSize": 24, "fontWeight": "bold", "lineBreak": "\n", "lineHeight": 28, "align": "center", "baseline": "middle"},
          "encoding": {"x": {"datum": 3.10, "axis": null}, "y": {"datum": 0.553, "axis": null}, "text": {"field": "label"}}},
        {"data": {"values": [{"label": "Expressed"}]}, "mark": {"type": "text", "color": "black", "fontSize": 24, "angle": 90, "align": "center", "baseline": "middle"},
          "encoding": {"x": {"datum": 8.66, "axis": null}, "y": {"datum": 0.684, "axis": null}, "text": {"field": "label"}}},
        {"data": {"values": [{"label": "EGF responsive genes"}]}, "mark": {"type": "text", "color": "black", "fontSize": 24, "angle": 90, "align": "center", "baseline": "middle"},
          "encoding": {"x": {"datum": 10.51, "axis": null}, "y": {"datum": 0.56, "axis": null}, "text": {"field": "label"}}},
        {"data": {"values": [{"label": "P"}]}, "mark": {"type": "text", "color": "black", "fontSize": 24, "fontStyle": "italic", "angle": 90, "align": "left", "baseline": "middle"},
          "encoding": {"x": {"datum": 10.24, "axis": null}, "y": {"datum": 0.811, "axis": null}, "text": {"field": "label"}}},
        {"data": {"values": [{"label": "= 1.64e-15"}]}, "mark": {"type": "text", "color": "black", "fontSize": 24, "angle": 90, "align": "left", "baseline": "middle"},
          "encoding": {"x": {"datum": 10.24, "axis": null}, "y": {"datum": 0.728, "axis": null}, "text": {"field": "label"}}}
      ]
    }
  ],
  "spacing": 21,
  "resolve": {"scale": {"color": "independent"}, "legend": {"color": "independent"}}
}
